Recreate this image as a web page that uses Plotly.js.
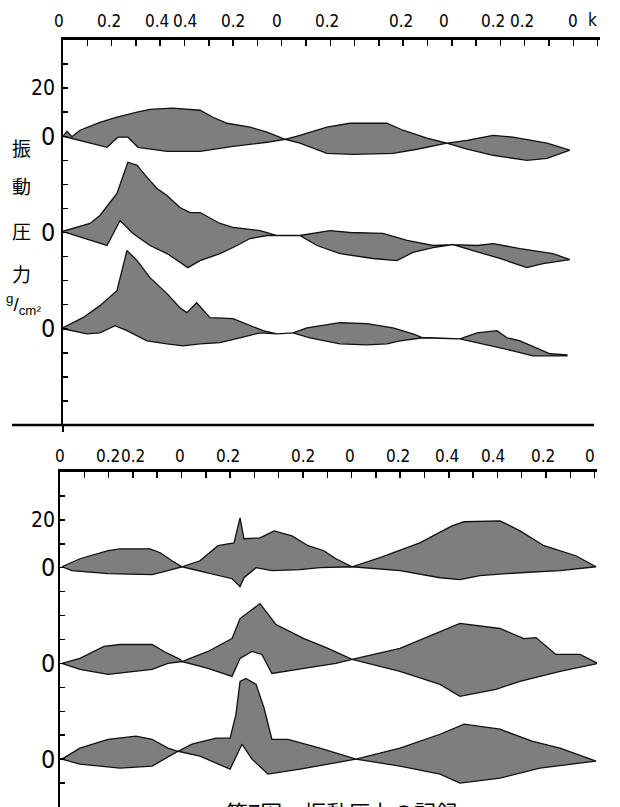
<!DOCTYPE html>
<html><head><meta charset="utf-8">
<script src="https://cdn.plot.ly/plotly-3.0.1.min.js"></script>
<style>html,body{margin:0;padding:0;background:#fff}#chart{width:620px;height:807px}</style>
</head><body><div id="chart"></div>
<script>
// x: measuring station (tick index along the hull), y: vibration pressure g/cm^2
const topLabels = ['0','0.2','0.4','0.4','0.2','0','0.2','0.2','0','0.2','0.2','0'];
const topLabelPos = [0,1.89,3.87,5.02,7.0,8.81,10.86,13.9,15.7,17.7,18.9,21.0];
const botLabels = ['0','0.2','0.2','0','0.2','0.2','0','0.2','0.4','0.4','0.2','0'];
const botLabelPos = [0,1.98,3.0,4.94,6.91,10.0,11.93,13.9,15.93,17.82,19.88,21.8];
const yLabelVals = [20,0,-40,-80];
const yLabelText = ['20','0','0','0'];
const bandOffsets = [0,-40,-80];

// ---- upper panel ----
const t1UpX = [0,0.16,0.37,0.7,1.52,2.22,3.05,3.58,4.5,5.64,6.17,6.75,7.7,8.4,9.14,9.75,10.86,11.81,13.33,13.99,14.98,15.8,16.63,17.7,18.52,19.92,20.86];
const t1UpY = [0,2.1,-0.2,2.5,5.8,7.9,10,11.2,11.7,10.8,7.9,5.4,3.75,1.7,-1.25,0.4,3.75,5.4,5.4,2.5,-0.8,-2.9,-1.7,0.4,-0.4,-2.9,-5.8];
const t1LoX = [0,1.81,2.26,2.67,3.09,4.28,5.64,7.0,8.4,9.14,9.75,10.86,11.93,13.58,14.57,15.8,16.63,17.7,19.09,19.92,20.86];
const t1LoY = [0,-4.6,-0.4,-0.4,-4.6,-6.25,-6.25,-4.2,-2.5,-1.25,-2.9,-7.1,-7.5,-7.1,-5.4,-2.9,-5.4,-7.9,-10,-9.2,-5.8];

const t2UpX = [0,1.11,1.52,2.22,2.67,3.05,3.46,3.87,4.28,4.81,5.23,5.64,6.46,7.0,8.11,8.81,9.22,9.75,10.99,11.81,13.17,14.16,15.23,16.05,17.04,17.7,18.81,20.16,20.86];
const t2UpY = [0.5,3.75,7.1,16.25,29.2,27.9,22.9,18.3,15.4,10.4,8.3,8.3,3.75,2.1,0.8,-1.25,-1.25,-1.25,0.8,0,-0.4,-3.3,-5.4,-5,-5.4,-4.6,-6.7,-8.75,-11.25];
const t2LoX = [0,1.81,2.35,2.88,3.58,4.28,5.14,5.64,6.46,7.0,7.7,8.4,9.75,10.45,11.4,12.76,13.74,14.4,15.23,16.05,16.87,17.98,19.09,19.75,20.86];
const t2LoY = [0.4,-5.4,5,-0.4,-5.4,-8.75,-14.6,-11.7,-8.75,-6.25,-2.5,-1.25,-1.25,-5.4,-8.75,-10.8,-11.7,-8.3,-6.25,-5,-7.5,-10.8,-14.6,-12.9,-11.25];

const t3UpX = [0,0.82,1.52,2.22,2.63,3.05,3.58,4.28,4.81,5.1,5.5,6.05,7.0,7.7,8.23,8.81,9.47,10.04,11.4,12.51,13.58,14.4,14.81,15.1,16.21,16.34,17.04,17.86,18.27,18.81,20.04,20.74];
const t3UpY = [0.4,4.6,9.6,15.8,32.5,28.3,21.25,14.6,8.75,6.7,10.8,4.6,4.2,1.25,-0.8,-2.1,-1.7,0.4,2.5,2.1,0.4,-2.1,-3.75,-3.75,-4.2,-4.2,-1.7,-0.8,-3.75,-5,-10.4,-10.8];
const t3LoX = [0,0.99,1.52,2.14,2.63,3.46,4.28,4.94,5.64,6.46,7.28,8.11,8.81,9.47,10.16,11.4,12.51,13.33,13.87,14.81,15.1,16.21,16.34,17.28,18.52,19.34,20.74];
const t3LoY = [0,-2.1,-1.7,1.25,-0.8,-5,-6.25,-7.1,-6.25,-5.8,-3.75,-1.7,-2.1,-1.7,-3.75,-6.25,-6.7,-6.25,-5,-3.75,-3.75,-4.2,-4.2,-6.25,-9.2,-11.25,-11.25];

// ---- lower panel ----
const b1UpX = [0.08,0.82,1.98,2.47,3.70,4.12,4.61,5.02,5.76,6.50,7.16,7.41,7.57,8.23,8.81,9.55,10.21,10.86,11.36,12.02,13.17,14.81,16.13,16.63,18.11,18.93,19.92,21.23,22.06];
const b1UpY = [0.4,3.75,7.1,7.9,7.9,6.25,2.9,0.4,2.9,9.2,10.4,20.8,12.1,12.5,15.4,13.3,9.2,7.1,3.75,0.4,4.2,10.4,17.5,19.2,19.6,15.4,9.2,5,0.4];
const b1LoX = [0.08,0.49,1.98,3.79,4.44,5.02,5.76,7.08,7.41,7.57,8.07,8.72,9.88,10.70,12.02,13.99,15.64,16.46,17.28,18.93,20.58,22.06];
const b1LoY = [0.4,-1.25,-2.5,-2.9,-1.25,0.4,-1.25,-4.6,-7.9,-4.2,0,-1.25,-0.8,0,0.4,-1.25,-4.2,-5,-3.3,-2.1,-1.25,0.4];

const b2UpX = [0.08,0.82,1.81,2.47,3.79,4.28,4.94,5.02,6.09,7.08,7.41,8.23,8.89,10.04,11.03,12.02,13.99,15.64,16.46,18.11,19.09,19.59,20.41,21.4,22.14];
const b2UpY = [0,2.1,7.1,7.9,7.9,5,1.7,0.8,5,10.4,18.75,25,16.25,10.4,6.25,1.7,6.25,13.3,16.7,14.6,10.4,10.8,3.75,3.75,0];
const b2LoX = [0.08,0.82,1.98,3.79,4.44,5.02,6.09,7.08,7.41,7.90,8.31,8.72,10.04,11.36,12.02,13.99,15.64,16.46,17.94,18.93,20.58,22.14];
const b2LoY = [0,-2.5,-4.6,-2.5,0,0.8,-2.1,-5.4,2.1,5,3.75,-4.2,-2.1,0,1.7,-3.3,-8.75,-13.75,-10.8,-7.5,-3.3,0];

const b3UpX = [0.08,0.82,1.98,3.13,3.79,4.44,4.86,5.43,6.42,7.0,7.24,7.41,7.65,8.07,8.40,8.72,9.38,10.70,12.18,13.99,15.64,16.63,18.11,19.42,20.58,22.06];
const b3UpY = [0,4.6,8.3,9.6,8.3,4.6,3.3,6.25,8.75,8.75,18.75,32.5,33.75,31.25,21.25,8.3,8.3,4.6,0,4.6,10.4,14.6,12.5,7.5,4.6,-0.8];
const b3LoX = [0.08,0.82,2.47,3.79,4.86,5.76,7.0,7.49,7.9,8.56,9.88,12.18,13.99,15.64,16.46,18.11,19.75,22.06];
const b3LoY = [0,-2.1,-3.75,-2.9,3.3,1.25,-4.2,6.25,0,-6.25,-4.2,0,-2.9,-6.25,-10,-7.9,-3.75,-0.8];

const W = 620, H = 807;
const px = v => v / W, py = v => 1 - v / H;
const FILL = '#7e7e7e', EDGE = '#111';
const NUMFONT = "'Liberation Sans Narrow','DejaVu Sans Condensed','Liberation Sans',Arial,sans-serif";

function band(upX, upY, loX, loY, off, xa, ya) {
  return {
    type: 'scatter', mode: 'lines', fill: 'toself',
    x: upX.concat(loX.slice().reverse()),
    y: upY.concat(loY.slice().reverse()).map(v => v + off),
    xaxis: xa, yaxis: ya,
    line: {color: EDGE, width: 1.3},
    fillcolor: FILL, hoverinfo: 'skip', showlegend: false
  };
}

const traces = [
  band(t1UpX, t1UpY, t1LoX, t1LoY, bandOffsets[0], 'x', 'y'),
  band(t2UpX, t2UpY, t2LoX, t2LoY, bandOffsets[1], 'x', 'y'),
  band(t3UpX, t3UpY, t3LoX, t3LoY, bandOffsets[2], 'x', 'y'),
  band(b1UpX, b1UpY, b1LoX, b1LoY, bandOffsets[0], 'x2', 'y2'),
  band(b2UpX, b2UpY, b2LoX, b2LoY, bandOffsets[1], 'x2', 'y2'),
  band(b3UpX, b3UpY, b3LoX, b3LoY, bandOffsets[2], 'x2', 'y2')
];

const annotations = [];
topLabels.forEach((t, i) => annotations.push({
  text: t, x: topLabelPos[i], xref: 'x', y: py(21), yref: 'paper',
  showarrow: false, xanchor: 'center', yanchor: 'middle', xshift: i === 0 ? -4 : 0,
  font: {family: NUMFONT, size: 17, color: '#000'}
}));
annotations.push({text: 'k', x: 21.8, xref: 'x', y: py(20), yref: 'paper', showarrow: false,
  xanchor: 'center', yanchor: 'middle', font: {family: NUMFONT, size: 17, color: '#000'}});
botLabels.forEach((t, i) => annotations.push({
  text: t, x: botLabelPos[i], xref: 'x2', y: py(456), yref: 'paper',
  showarrow: false, xanchor: 'center', yanchor: 'middle',
  font: {family: NUMFONT, size: 17, color: '#000'}
}));
['y', 'y2'].forEach(ya => {
  yLabelVals.forEach((v, i) => annotations.push({
    text: yLabelText[i], x: px(57), xref: 'paper', y: v, yref: ya,
    showarrow: false, xanchor: 'right', yanchor: 'middle',
    font: {family: NUMFONT, size: yLabelText[i] === '0' ? 25 : 21, color: '#000'}
  }));
});
const jp = [['振', 148], ['動', 185], ['圧', 230], ['力', 273]];
jp.forEach(([t, y]) => annotations.push({
  text: t, x: px(21), xref: 'paper', y: py(y), yref: 'paper', showarrow: false,
  xanchor: 'center', yanchor: 'middle',
  font: {family: "'Noto Sans CJK JP',sans-serif", size: 19, color: '#000'}
}));
annotations.push({text: '<sup>g</sup>/<sub>cm²</sub>', x: px(23), xref: 'paper', y: py(304), yref: 'paper',
  showarrow: false, xanchor: 'center', yanchor: 'middle',
  font: {family: "'Liberation Sans',sans-serif", size: 19, color: '#000'}});
annotations.push({text: '第7図　振動圧力の記録', x: px(342), xref: 'paper', y: py(811), yref: 'paper',
  showarrow: false, xanchor: 'center', yanchor: 'middle',
  font: {family: "'Noto Sans CJK JP',sans-serif", size: 22, color: '#000'}});

const xCommon = {
  side: 'top', range: [0, 22.1], showline: true, linewidth: 3, linecolor: '#000',
  ticks: 'inside', tickmode: 'linear', tick0: 0, dtick: 1, ticklen: 6, tickwidth: 1.5, tickcolor: '#000',
  showticklabels: false, showgrid: false, zeroline: false, fixedrange: true
};
const yCommon = {
  showline: true, linewidth: 2.5, linecolor: '#000',
  ticks: 'inside', tickmode: 'linear', tick0: 0, dtick: 10, ticklen: 5, tickwidth: 1.5, tickcolor: '#000',
  showticklabels: false, showgrid: false, zeroline: false, fixedrange: true
};

const layout = {
  width: W, height: H, margin: {l: 0, r: 0, t: 0, b: 0},
  paper_bgcolor: '#fff', plot_bgcolor: 'rgba(0,0,0,0)', showlegend: false,
  xaxis: Object.assign({}, xCommon, {domain: [px(63), px(600)], anchor: 'y'}),
  yaxis: Object.assign({}, yCommon, {domain: [py(425), py(40)], range: [-120, 40], anchor: 'x'}),
  xaxis2: Object.assign({}, xCommon, {domain: [px(60), px(597)], anchor: 'y2'}),
  yaxis2: Object.assign({}, yCommon, {domain: [0, py(472)], range: [-100, 40], anchor: 'x2'}),
  annotations: annotations,
  shapes: [
    {type: 'line', xref: 'paper', yref: 'paper', x0: px(12), x1: px(594), y0: py(425), y1: py(425),
     line: {color: '#000', width: 2.5}},
    {type: 'line', xref: 'paper', yref: 'paper', x0: px(63), x1: px(63), y0: py(425), y1: py(432),
     line: {color: '#000', width: 2}}
  ]
};

Plotly.newPlot('chart', traces, layout, {staticPlot: true, displayModeBar: false});
</script></body></html>
